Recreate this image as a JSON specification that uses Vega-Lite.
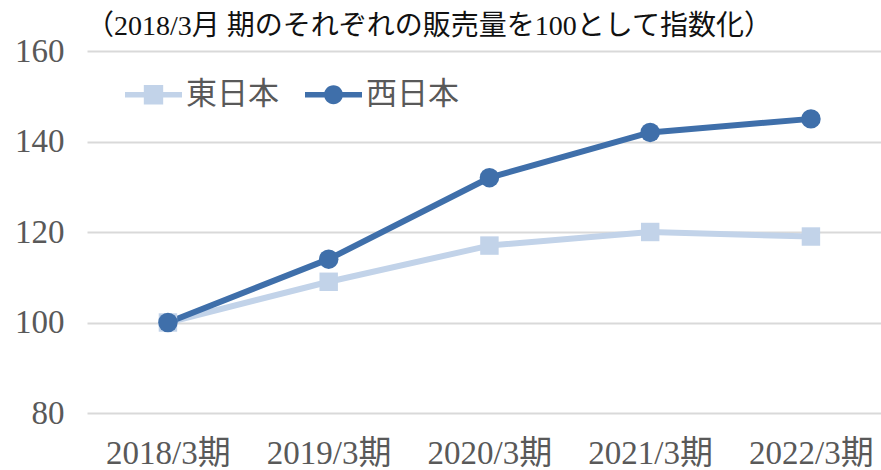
{
  "$schema": "https://vega.github.io/schema/vega-lite/v6.json",
  "width": 794,
  "height": 362,
  "autosize": {"type": "none"},
  "padding": {"left": 87, "top": 51, "right": 0, "bottom": 57},
  "background": "white",
  "config": {"view": {"stroke": null}},
  "title": {
    "text": "（2018/3月 期のそれぞれの販売量を100として指数化）",
    "anchor": "start",
    "frame": "group",
    "orient": "top",
    "baseline": "bottom",
    "offset": 0,
    "dy": 34,
    "dx": -1,
    "font": "Liberation Serif, Noto Sans CJK JP",
    "fontSize": 28,
    "fontWeight": "normal",
    "color": "#111111"
  },
  "data": {
    "values": [
      {"period": "2018/3期", "series": "東日本", "value": 100},
      {"period": "2019/3期", "series": "東日本", "value": 109},
      {"period": "2020/3期", "series": "東日本", "value": 117},
      {"period": "2021/3期", "series": "東日本", "value": 120},
      {"period": "2022/3期", "series": "東日本", "value": 119},
      {"period": "2018/3期", "series": "西日本", "value": 100},
      {"period": "2019/3期", "series": "西日本", "value": 114},
      {"period": "2020/3期", "series": "西日本", "value": 132},
      {"period": "2021/3期", "series": "西日本", "value": 142},
      {"period": "2022/3期", "series": "西日本", "value": 145}
    ]
  },
  "encoding": {
    "x": {
      "field": "period",
      "type": "ordinal",
      "sort": null,
      "scale": {"type": "point", "padding": 0.4697, "align": 0.536},
      "axis": {
        "title": null,
        "domain": false,
        "ticks": false,
        "grid": false,
        "labelAngle": 0,
        "labelPadding": 24,
        "labelFont": "Liberation Serif, Noto Sans CJK JP",
        "labelFontSize": 33,
        "labelColor": "#595959",
        "labelBaseline": "top"
      }
    },
    "y": {
      "field": "value",
      "type": "quantitative",
      "scale": {"domain": [80, 160], "nice": false, "zero": false},
      "axis": {
        "title": null,
        "values": [80, 100, 120, 140, 160],
        "domain": false,
        "ticks": false,
        "grid": true,
        "gridColor": "#D9D9D9",
        "gridWidth": 2,
        "labelPadding": 23,
        "labelFont": "Liberation Serif",
        "labelFontSize": 33,
        "labelColor": "#595959"
      }
    },
    "color": {
      "field": "series",
      "type": "nominal",
      "scale": {"domain": ["東日本", "西日本"], "range": ["#C2D3E9", "#3F6FAA"]},
      "legend": {
        "title": null,
        "orient": "none",
        "direction": "horizontal",
        "legendX": 38,
        "legendY": 15,
        "padding": 0,
        "symbolSize": 3249,
        "labelOffset": 4,
        "columnPadding": 26,
        "labelFont": "Noto Sans CJK JP",
        "labelFontSize": 31,
        "labelColor": "#595959",
        "encode": {
          "symbols": {
            "update": {
              "shape": {"signal": "datum.value === '東日本' ? 'M-1,-0.1H-0.34V-0.34H0.34V-0.1H1V0.1H0.34V0.34H-0.34V0.1H-1Z' : 'M-1,-0.1H1V0.1H-1Z M-0.33,0A0.33,0.33 0 1 1 0.33,0A0.33,0.33 0 1 1 -0.33,0Z'"},
              "fill": {"signal": "datum.value === '東日本' ? '#C2D3E9' : '#3F6FAA'"},
              "fillOpacity": {"value": 1},
              "strokeWidth": {"value": 0},
              "opacity": {"value": 1}
            }
          }
        }
      }
    }
  },
  "layer": [
    {
      "mark": {"type": "line", "strokeWidth": 6, "strokeJoin": "round"}
    },
    {
      "transform": [{"filter": "datum.series === '東日本'"}],
      "mark": {"type": "point", "filled": true, "opacity": 1, "size": 340, "shape": "square"}
    },
    {
      "transform": [{"filter": "datum.series === '西日本'"}],
      "mark": {"type": "point", "filled": true, "opacity": 1, "size": 380, "shape": "circle"}
    }
  ]
}
